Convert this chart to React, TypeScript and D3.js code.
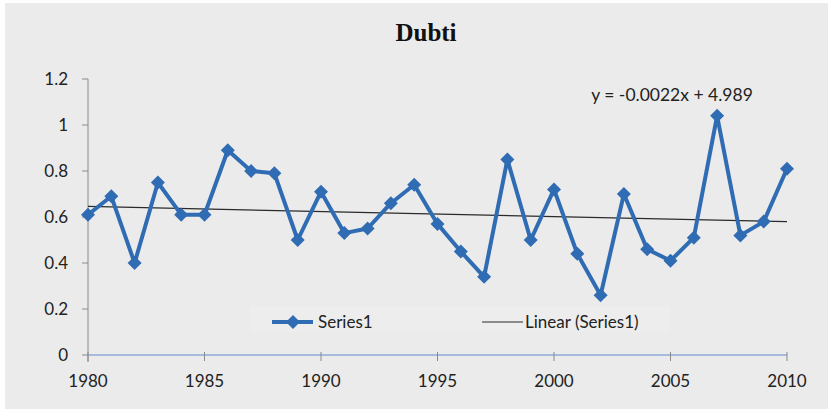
import React from "react";
import * as d3 from "d3";

const years: number[] = [
  1980, 1981, 1982, 1983, 1984, 1985, 1986, 1987, 1988, 1989, 1990,
  1991, 1992, 1993, 1994, 1995, 1996, 1997, 1998, 1999, 2000,
  2001, 2002, 2003, 2004, 2005, 2006, 2007, 2008, 2009, 2010,
];
const values: number[] = [
  0.61, 0.69, 0.40, 0.75, 0.61, 0.61, 0.89, 0.80, 0.79, 0.50, 0.71,
  0.53, 0.55, 0.66, 0.74, 0.57, 0.45, 0.34, 0.85, 0.50, 0.72,
  0.44, 0.26, 0.70, 0.46, 0.41, 0.51, 1.04, 0.52, 0.58, 0.81,
];
const yTicks: number[] = [0, 0.2, 0.4, 0.6, 0.8, 1, 1.2];
const xTicks: number[] = [1980, 1985, 1990, 1995, 2000, 2005, 2010];
const title = "Dubti";
const equation = "y = -0.0022x + 4.989";
const seriesName = "Series1";
const trendName = "Linear (Series1)";

const W = 828;
const H = 409;
const BLUE = "#2f6cb3";
const FONT = "Lato, 'Open Sans', sans-serif";

export default function App() {
  const x = d3.scaleLinear().domain([1980, 2010]).range([88, 787]);
  const y = d3.scaleLinear().domain([0, 1.2]).range([355, 79]);

  const data = years.map((yr, i) => ({ yr, v: values[i] }));
  const line = d3
    .line<{ yr: number; v: number }>()
    .x((d) => x(d.yr))
    .y((d) => y(d.v));

  // least-squares trend from the data
  const mx = d3.mean(years)!;
  const my = d3.mean(values)!;
  let num = 0;
  let den = 0;
  years.forEach((yr, i) => {
    num += (yr - mx) * (values[i] - my);
    den += (yr - mx) * (yr - mx);
  });
  const slope = num / den;
  const intercept = my - slope * mx;
  const trend = (t: number) => slope * t + intercept;

  const diamond = d3.symbol().type(d3.symbolDiamond2).size(125)();

  return (
    <svg
      width={W}
      height={H}
      style={{ position: "absolute", left: 0, top: 0 }}
    >
      <rect x={0} y={0} width={W} height={H} fill="#ffffff" />
      <rect x={5} y={3} width={W - 5} height={H - 3} fill="#ebebeb" />
      <rect x={250} y={306} width={420} height={26} fill="#ededed" />

      <text
        x={426}
        y={41}
        textAnchor="middle"
        fontFamily="'Liberation Serif', 'Times New Roman', serif"
        fontWeight="bold"
        fontSize={25}
        fill="#111"
      >
        {title}
      </text>

      {/* y axis */}
      <line x1={88} x2={88} y1={y(1.2)} y2={362} stroke="#8a8a8a" strokeWidth={1} />
      {yTicks.map((t) => (
        <g key={t}>
          <line x1={82} x2={88} y1={y(t)} y2={y(t)} stroke="#8a8a8a" />
          <text
            x={68}
            y={y(t) + 6}
            textAnchor="end"
            fontFamily={FONT}
            fontSize={17}
            fill="#222"
          >
            {String(t)}
          </text>
        </g>
      ))}

      {/* x axis */}
      <line x1={88} x2={x(2010)} y1={355} y2={355} stroke="#8eaad8" strokeWidth={1.5} />
      {xTicks.map((t) => (
        <g key={t}>
          <line x1={x(t)} x2={x(t)} y1={352} y2={361} stroke="#8a8a8a" />
          <text
            x={x(t)}
            y={387}
            textAnchor="middle"
            fontFamily={FONT}
            fontSize={17}
            fill="#222"
          >
            {String(t)}
          </text>
        </g>
      ))}

      {/* trend line */}
      <line
        x1={x(1980)}
        x2={x(2010)}
        y1={y(trend(1980))}
        y2={y(trend(2010))}
        stroke="#2a2a2a"
        strokeWidth={1.2}
      />

      {/* series */}
      <path d={line(data) || ""} fill="none" stroke={BLUE} strokeWidth={4} strokeLinejoin="round" />
      {data.map((d) => (
        <path
          key={d.yr}
          d={diamond || ""}
          transform={`translate(${x(d.yr)},${y(d.v)})`}
          fill={BLUE}
        />
      ))}

      {/* equation */}
      <text
        x={672}
        y={101}
        textAnchor="middle"
        fontFamily={FONT}
        fontSize={17.5}
        fill="#222"
      >
        {equation}
      </text>

      {/* legend */}
      <line x1={272} x2={313} y1={322} y2={322} stroke={BLUE} strokeWidth={4} />
      <path d={diamond || ""} transform="translate(293,322)" fill={BLUE} />
      <text x={318} y={328} fontFamily={FONT} fontSize={17} fill="#222">
        {seriesName}
      </text>
      <line x1={482} x2={523} y1={322} y2={322} stroke="#2a2a2a" strokeWidth={1.2} />
      <text x={525} y={328} fontFamily={FONT} fontSize={17} fill="#222">
        {trendName}
      </text>
    </svg>
  );
}
